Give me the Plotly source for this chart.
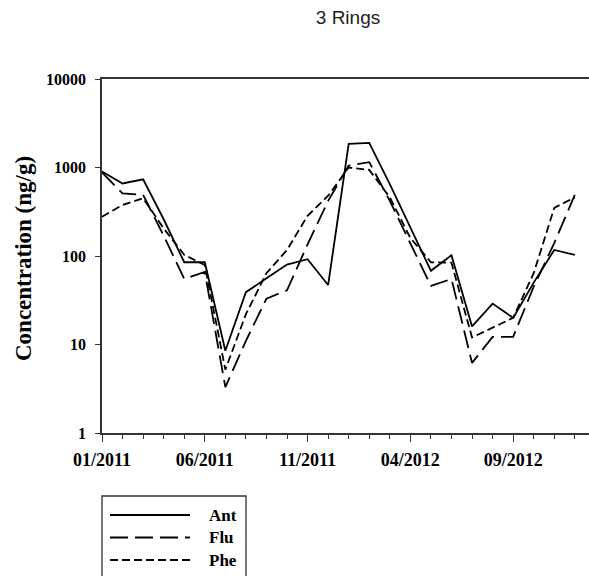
import plotly.graph_objects as go

# Monthly sampling index, January 2011 through December 2012
months = list(range(24))
tick_months = [0, 5, 10, 15, 20]
tick_labels = ["01/2011", "06/2011", "11/2011", "04/2012", "09/2012"]
y_ticks = [1, 10, 100, 1000, 10000]
y_tick_labels = ["1", "10", "100", "1000", "10000"]

# Concentrations (ng/g) of the three-ring PAHs
ant = [900, 660, 735, 260, 85, 85, 8.5, 39, 56, 80, 92, 47,
       1850, 1900, 650, 210, 68, 102, 16, 29, 20, 50, 117, 103]
flu = [880, 510, 490, 170, 55, 66, 3.3, 11, 33, 41, 135, 420,
       1050, 1150, 420, 140, 46, 55, 6.2, 12.2, 12.2, 45, 140, 490]
phe = [278, 377, 450, 205, 103, 79, 5.2, 22, 64, 117, 285, 480,
       1000, 940, 460, 160, 85, 84, 12, 15.5, 20, 64, 350, 460]

series = [
    ("Ant", ant, "solid"),
    ("Flu", flu, "18px,7px"),
    ("Phe", phe, "8px,4px"),
]

W, H = 589, 576
L, R, T, B = 102, 0, 79, 143
plot_w = W - L - R
plot_h = H - T - B


def px_x(px):
    return (px - L) / plot_w


def px_y(py):
    return (H - B - py) / plot_h


fig = go.Figure()
for name, vals, dash in series:
    fig.add_trace(go.Scatter(
        x=months, y=vals, mode="lines", name=name,
        line=dict(color="black", width=1.8, dash=dash),
    ))

axis_col = "#333333"
serif_bold = dict(family="Liberation Serif", color="black", weight="bold")

fig.update_layout(
    width=W, height=H,
    margin=dict(l=L, r=R, t=T, b=B),
    plot_bgcolor="white", paper_bgcolor="white",
    showlegend=False,
    title=dict(
        text="3 Rings", x=348 / W, xref="container", xanchor="center",
        y=1 - 17 / H, yref="container", yanchor="middle",
        font=dict(family="Liberation Sans", size=19, color="#222222"),
    ),
    xaxis=dict(
        range=[0, 23.69], showgrid=False, zeroline=False,
        showline=True, linecolor=axis_col, linewidth=1.5, mirror=True,
        ticks="outside", ticklen=7, tickwidth=1.3, tickcolor=axis_col,
        tickmode="array", tickvals=tick_months, ticktext=tick_labels,
        minor=dict(tickmode="array", tickvals=months, ticks="outside",
                   ticklen=4, tickwidth=1.3, tickcolor=axis_col),
        tickfont=dict(size=18, **serif_bold), ticklabelstandoff=3,
    ),
    yaxis=dict(
        type="log", range=[0, 4], showgrid=False, zeroline=False,
        showline=True, linecolor=axis_col, linewidth=1.5, mirror=False,
        ticks="outside", ticklen=5, tickwidth=1.3, tickcolor=axis_col,
        tickmode="array", tickvals=y_ticks, ticktext=y_tick_labels,
        tickfont=dict(size=16, **serif_bold), ticklabelstandoff=6,
    ),
)

fig.add_annotation(
    text="Concentration (ng/g)", textangle=-90,
    x=px_x(23), y=px_y(259), xref="paper", yref="paper",
    showarrow=False, xanchor="center", yanchor="middle",
    font=dict(size=23, **serif_bold),
)

# Legend box below the chart, drawn by hand so the line samples are long
fig.add_shape(type="rect", xref="paper", yref="paper",
              x0=px_x(102), x1=px_x(246), y0=px_y(496), y1=px_y(620),
              line=dict(color=axis_col, width=1.3), fillcolor="white")
for i, (name, vals, dash) in enumerate(series):
    row_y = px_y(515 + 22.5 * i)
    fig.add_shape(type="line", xref="paper", yref="paper",
                  x0=px_x(110), x1=px_x(190), y0=row_y, y1=row_y,
                  line=dict(color="black", width=1.8, dash=dash))
    fig.add_annotation(
        text=name, x=px_x(207), y=row_y, xref="paper", yref="paper",
        showarrow=False, xanchor="left", yanchor="middle",
        font=dict(size=17, **serif_bold),
    )

fig.write_html("out.html")
